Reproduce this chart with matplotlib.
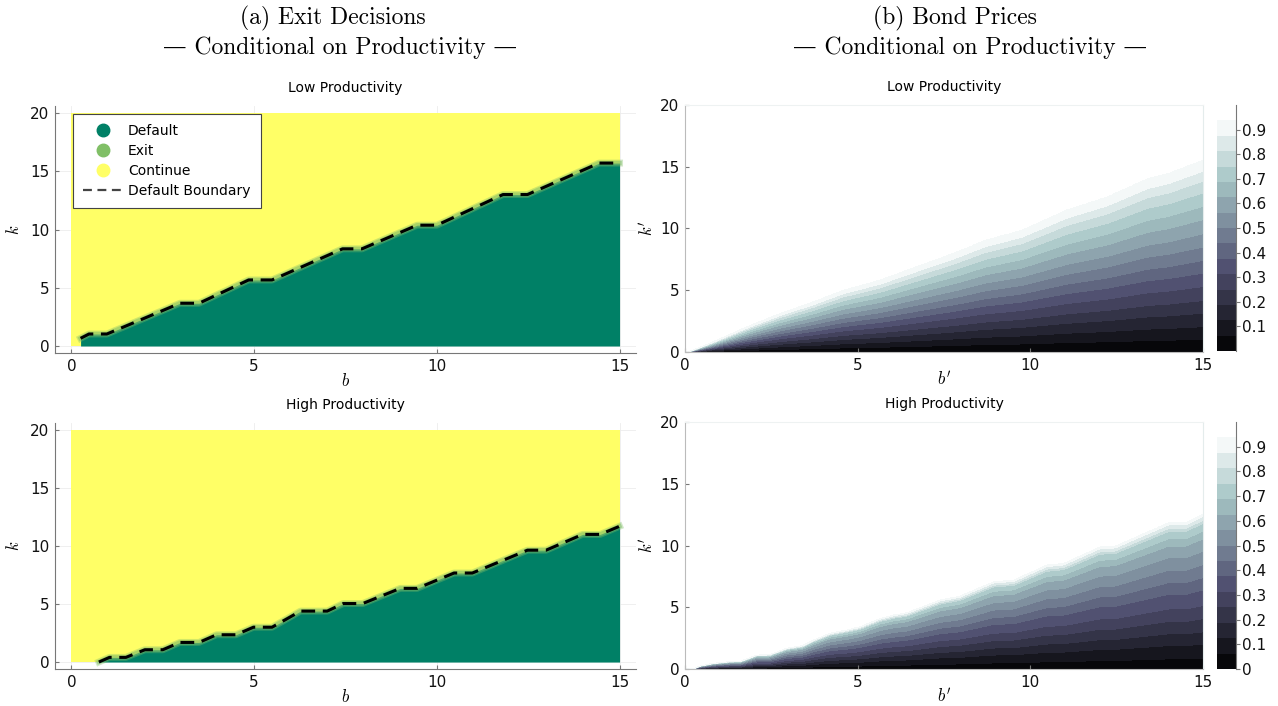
import numpy as np
import matplotlib.pyplot as plt
from matplotlib.lines import Line2D
from matplotlib.colors import Normalize

plt.rcParams['mathtext.fontset'] = 'cm'
plt.rcParams['font.family'] = ['DejaVu Sans']

# ---- data ----
b_range = [0, 15]
k_range = [0, 20]

# default boundary, low productivity (b, k)
low_b = [0.25, 0.48, 0.97, 2.97, 3.49, 4.85, 5.49, 7.42, 7.95, 9.46, 10.0,
         11.81, 12.48, 14.44, 15.0]
low_k = [0.66, 1.03, 1.03, 3.67, 3.67, 5.67, 5.67, 8.34, 8.34, 10.37, 10.37,
         13.0, 13.0, 15.70, 15.70]

# default boundary, high productivity (b, k)
high_b = [0.75, 1.04, 1.49, 2.01, 2.50, 2.97, 3.49, 3.97, 4.50, 4.98, 5.49,
          6.27, 7.0, 7.44, 7.97, 9.0, 9.46, 10.47, 10.97, 12.48, 12.99,
          13.99, 14.47, 15.0]
high_k = [0.0, 0.40, 0.40, 1.06, 1.06, 1.69, 1.69, 2.35, 2.35, 3.0, 3.0,
          4.39, 4.39, 5.04, 5.04, 6.35, 6.35, 7.67, 7.67, 9.64, 9.64,
          11.0, 11.0, 11.7]

# upper edge of the priced region (b', k')
low_edge_b = [0, 0.1, 0.82, 1.79, 2.75, 3.72, 4.57, 5.65, 6.69, 7.87, 8.69,
              9.75, 11.05, 12.23, 13.4, 13.99, 15.0]
low_edge_k = [0, 0, 0.84, 2.05, 3.13, 4.07, 5.0, 5.83, 6.9, 8.1, 9.05,
              9.86, 11.5, 12.57, 14.05, 14.46, 15.54]
high_edge_b = [0, 0.24, 0.43, 0.82, 1.3, 1.6, 2.08, 2.45, 2.94, 3.39, 3.72,
               4.2, 4.68, 5.07, 5.65, 6.03, 6.42, 7.38, 7.96, 8.93, 9.51,
               10.47, 10.96, 12.02, 12.45, 14.0, 14.5, 15.0]
high_edge_k = [0, 0, 0.24, 0.46, 0.6, 0.62, 1.13, 1.16, 1.68, 1.89, 2.35,
               2.9, 3.16, 3.43, 4.1, 4.37, 4.56, 5.59, 5.91, 7.07, 7.2,
               8.42, 8.56, 9.9, 9.95, 11.85, 11.85, 12.55]

# price contour levels and where each level sits, as share of the edge height
price_levels = np.linspace(0, 0.9375, 16)
low_frac = [0, 0.066, 0.132, 0.202, 0.268, 0.341, 0.411, 0.477, 0.547, 0.616,
            0.690, 0.759, 0.829, 0.890, 0.942, 1.0]
high_frac = [0, 0.069, 0.16, 0.24, 0.325, 0.41, 0.51, 0.59, 0.675, 0.76,
             0.84, 0.89, 0.94, 0.96, 0.985, 1.0]

low_cbar_ticks = [0.1, 0.2, 0.3, 0.4, 0.5, 0.6, 0.7, 0.8, 0.9]
high_cbar_ticks = [0, 0.1, 0.2, 0.3, 0.4, 0.5, 0.6, 0.7, 0.8, 0.9]

# summer colormap end points
c_default = '#008066'
c_exit = '#80bf66'
c_continue = '#ffff66'

W, H = 1278, 706
fig = plt.figure(figsize=(W / 100, H / 100), dpi=100)


def rect(x0, y0, x1, y1):
    # pixel box -> figure fraction
    return [x0 / W, 1 - y1 / H, (x1 - x0) / W, (y1 - y0) / H]


def style_axes(ax, light=False):
    col = '#bbbbbb' if light else '#777777'
    ax.spines['left'].set_color(col)
    ax.spines['bottom'].set_color(col)
    if light:
        # very faint frame at top / right, no grid
        ax.spines['top'].set_color('#eef2f2')
        ax.spines['right'].set_color('#e4ecec')
    else:
        ax.spines['top'].set_visible(False)
        ax.spines['right'].set_visible(False)
        ax.grid(color='#ececec', lw=0.6, zorder=0)
        ax.set_axisbelow(True)
    ax.tick_params(direction='in', length=3, color='#777777', labelsize=11,
                   pad=4, labelcolor='#111111', top=False, right=False)
    ax.set_xticks([0, 5, 10, 15])
    ax.set_yticks([0, 5, 10, 15, 20])


def exit_panel(ax, bb, kk, title, legend=False):
    ax.fill_between(b_range, k_range[0], k_range[1], color=c_continue, lw=0, zorder=1)
    ax.fill_between(bb, 0, kk, color=c_default, lw=0, zorder=2)
    ax.plot(bb, kk, color=c_exit, lw=5, alpha=0.35, zorder=3)
    ax.plot(bb, kk, color=c_exit, lw=3.2, alpha=0.5, zorder=3)
    ax.plot(bb, kk, color='black', lw=2.2, dashes=(4.5, 2.5), zorder=4)
    ax.set_xlim(-0.45, 15.45)
    ax.set_ylim(-0.6, 20.6)
    style_axes(ax)
    ax.set_title(title, fontsize=10, pad=10)
    ax.set_xlabel(r'$b$', fontsize=12, labelpad=-1)
    ax.set_ylabel(r'$k$', fontsize=12, labelpad=5)
    if legend:
        handles = [
            Line2D([], [], ls='none', marker='o', ms=9, color=c_default),
            Line2D([], [], ls='none', marker='o', ms=9, color=c_exit),
            Line2D([], [], ls='none', marker='o', ms=9, color=c_continue),
            Line2D([], [], color='#444444', lw=1.6, dashes=(4, 2.5)),
        ]
        leg = ax.legend(handles, ['Default', 'Exit', 'Continue', 'Default Boundary'],
                        loc='upper left', bbox_to_anchor=(0.019, 0.997),
                        fontsize=10, fancybox=False, framealpha=1,
                        edgecolor='#444444', borderpad=0.75, labelspacing=0.42,
                        handlelength=2.8, handletextpad=0.4)
        leg.get_frame().set_linewidth(0.8)
        leg.set_zorder(10)


def price_panel(ax, cax, eb, ek, frac, title, ticks):
    b_fine = np.linspace(b_range[0], b_range[1], 601)
    k_fine = np.linspace(k_range[0], k_range[1], 801)
    edge = np.interp(b_fine, eb, ek)
    B, K = np.meshgrid(b_fine, k_fine)
    E = np.broadcast_to(edge, B.shape)
    safe = np.where(E > 0, E, 1.0)
    ratio = np.where(E > 0, K / safe, np.where(K == 0, 0.0, 2.0))
    Z = np.where(ratio <= 1, np.interp(np.clip(ratio, 0, 1), frac, price_levels), 1.0)
    norm = Normalize(price_levels[0], price_levels[-1])
    ax.contourf(B, K, Z, levels=price_levels, cmap='bone', norm=norm, zorder=1)
    ax.set_xlim(0, 15)
    ax.set_ylim(0, 20)
    style_axes(ax, light=True)
    ax.set_title(title, fontsize=10, pad=10)
    ax.set_xlabel(r"$b'$", fontsize=12, labelpad=-1)
    ax.set_ylabel(r"$k'$", fontsize=12, labelpad=2)

    mids = 0.5 * (price_levels[:-1] + price_levels[1:])
    cax.pcolormesh([0, 1], price_levels, mids[:, None], cmap='bone', norm=norm)
    cax.set_xlim(0, 1)
    cax.set_ylim(0, 1)
    cax.set_xticks([])
    for s in ['left', 'top', 'bottom']:
        cax.spines[s].set_visible(False)
    cax.spines['right'].set_color('#777777')
    cax.yaxis.tick_right()
    cax.set_yticks(ticks)
    cax.set_yticklabels([f'{t:g}' for t in ticks])
    cax.tick_params(axis='y', direction='out', length=3, color='#777777',
                    labelsize=11, pad=1, labelcolor='#111111')


ax1 = fig.add_axes(rect(55, 106, 636, 353))
ax2 = fig.add_axes(rect(55, 423, 636, 669))
ax3 = fig.add_axes(rect(685, 105, 1203, 352))
ax4 = fig.add_axes(rect(685, 422, 1203, 669))
cax3 = fig.add_axes(rect(1217, 105, 1236, 351))
cax4 = fig.add_axes(rect(1217, 422, 1236, 669))

exit_panel(ax1, low_b, low_k, 'Low Productivity', legend=True)
exit_panel(ax2, high_b, high_k, 'High Productivity')
price_panel(ax3, cax3, low_edge_b, low_edge_k, low_frac, 'Low Productivity', low_cbar_ticks)
price_panel(ax4, cax4, high_edge_b, high_edge_k, high_frac, 'High Productivity', high_cbar_ticks)

serif = ['cmr10', 'DejaVu Serif']
fig.text(333 / W, 1 - 18 / H, '(a) Exit Decisions', ha='center', va='center',
         fontsize=17, family=serif)
fig.text(340 / W, 1 - 48 / H, '\u2014 Conditional on Productivity \u2014', ha='center',
         va='center', fontsize=17, family=serif)
fig.text(955 / W, 1 - 18 / H, '(b) Bond Prices', ha='center', va='center',
         fontsize=17, family=serif)
fig.text(970 / W, 1 - 48 / H, '\u2014 Conditional on Productivity \u2014', ha='center',
         va='center', fontsize=17, family=serif)

fig.savefig('out.png', dpi=100)
